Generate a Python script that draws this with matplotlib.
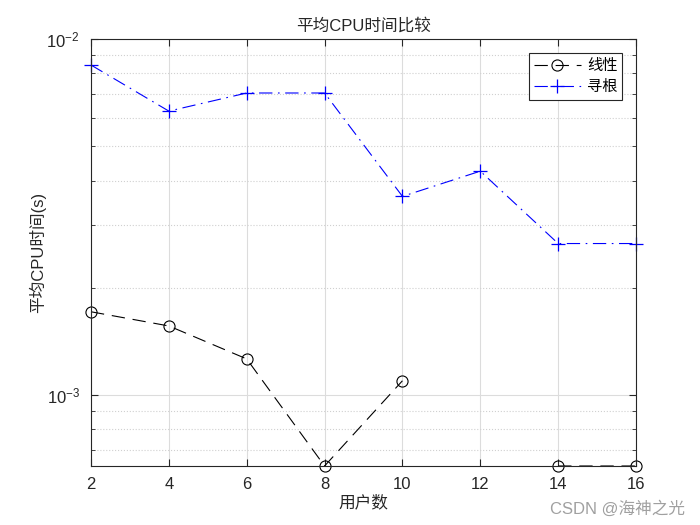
import numpy as np
import matplotlib
matplotlib.use("Agg")
import matplotlib.pyplot as plt
from matplotlib.ticker import LogLocator, NullFormatter, FixedLocator

plt.rcParams['font.family'] = ['Liberation Sans', 'Noto Sans CJK SC']
plt.rcParams['mathtext.fontset'] = 'custom'
plt.rcParams['mathtext.rm'] = 'Liberation Sans'

users = [2, 4, 6, 8, 10, 12, 14, 16]
linear = [1.71e-3, 1.56e-3, 1.26e-3, 6.3e-4, 1.094e-3, np.nan, 6.3e-4, 6.3e-4]
search = [8.45e-3, 6.27e-3, 7.05e-3, 7.05e-3, 3.61e-3, 4.25e-3, 2.66e-3, 2.66e-3]

fig = plt.figure(figsize=(7, 5.25), dpi=100)
ax = fig.add_axes([0.13, 0.1124, 0.7786, 0.8133])

ax.plot(users, linear, color='black', linestyle=(0, (12, 7)), linewidth=0.8,
        marker='o', markersize=8, markerfacecolor='none', markeredgewidth=0.8,
        label='线性', clip_on=False)
ax.plot(users, search, color='blue', linestyle=(0, (12, 5, 1.5, 5)), linewidth=0.8,
        marker='+', markersize=10, markeredgewidth=0.9,
        label='寻根', clip_on=False)

ax.set_yscale('log')
ax.set_xlim(2, 16)
ax.set_ylim(6.3e-4, 1e-2)
ax.set_xticks([2, 4, 6, 8, 10, 12, 14, 16])
ax.yaxis.set_major_locator(FixedLocator([1e-3, 1e-2]))
ax.yaxis.set_minor_locator(LogLocator(base=10, subs=np.arange(2, 10)))
ax.yaxis.set_minor_formatter(NullFormatter())

ax.grid(True, which='major', color='#dcdcdc', linestyle='-', linewidth=0.8)
ax.grid(True, which='minor', axis='y', color='#d0d0d0', linestyle=':', linewidth=0.8)
ax.set_axisbelow(True)

ax.tick_params(which='both', direction='in', top=True, right=True, labelsize=12, colors='#262626')
ax.tick_params(which='major', length=5, pad=8)
ax.tick_params(which='minor', length=3)
for s in ax.spines.values():
    s.set_color('#262626')
    s.set_linewidth(0.8)

ax.set_title('平均CPU时间比较', fontsize=12, color='#262626',
             family=['Liberation Sans', 'Noto Sans CJK SC'])
ax.set_xlabel('用户数', fontsize=12, color='#262626', labelpad=2,
              family=['Liberation Sans', 'Noto Sans CJK SC'])
ax.set_ylabel('平均CPU时间(s)', fontsize=12, color='#262626', labelpad=0,
              family=['Liberation Sans', 'Noto Sans CJK SC'])

leg = ax.legend(loc='upper right', fontsize=11, frameon=True, fancybox=False,
                edgecolor='#262626', framealpha=1, borderaxespad=0.9,
                handlelength=3.1, handletextpad=0.4, borderpad=0.3, labelspacing=0.25,
                prop={'family': ['Noto Sans CJK SC'], 'size': 11})
leg.get_frame().set_linewidth(0.8)

fig.text(0.978, 0.015, 'CSDN @海神之光', ha='right', va='bottom', fontsize=12,
         color='#a0a0a0', family=['Liberation Sans', 'Noto Sans CJK SC'])

fig.savefig('out.png', dpi=100, facecolor='white')
